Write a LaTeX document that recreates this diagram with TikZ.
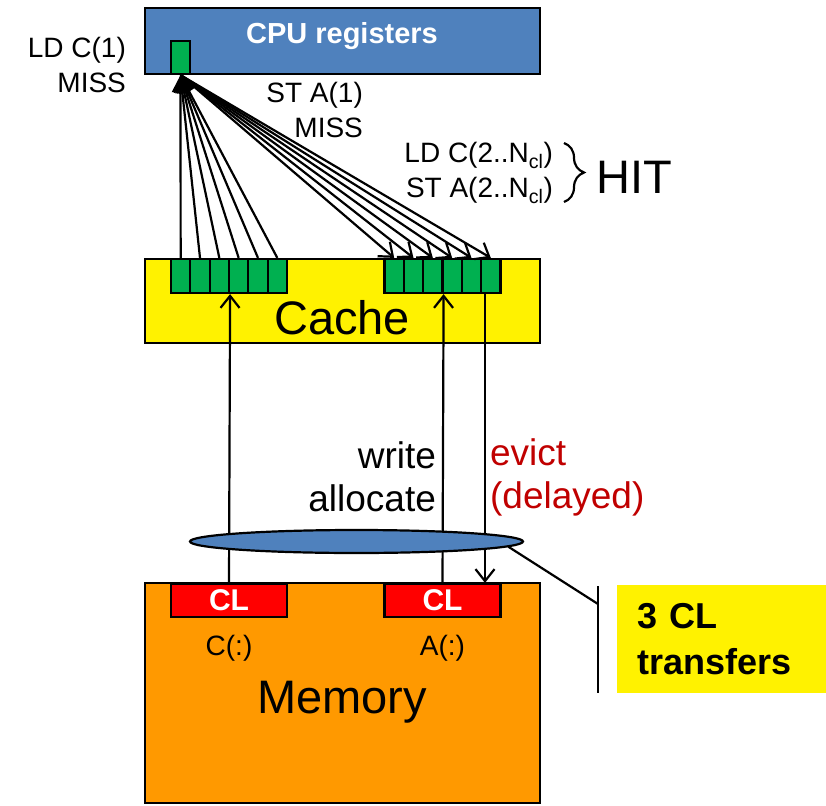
\documentclass[tikz,border=0pt]{standalone}
\usepackage{fontspec}
\setmainfont{Liberation Sans}
\usetikzlibrary{arrows.meta,shapes.geometric,decorations.pathreplacing}
\definecolor{cpublue}{HTML}{4F81BD}
\definecolor{cellgreen}{HTML}{00B050}
\definecolor{memorange}{HTML}{FF9900}
\definecolor{evictred}{HTML}{C00000}
\begin{document}
\begin{tikzpicture}[x=1pt, y=-1pt, line width=2.2pt,
    bigbox/.style={draw, inner sep=0pt, minimum width=395pt},
    cell/.style={draw, fill=cellgreen, inner sep=0pt, minimum width=19.33pt, minimum height=34pt},
    clbox/.style={draw, fill=red, text=white, inner sep=0pt, minimum width=116pt, minimum height=33pt,
      font=\fontsize{30}{36}\selectfont\bfseries},
    lbl/.style={inner sep=0pt, font=\fontsize{28}{35}\selectfont},
    biglbl/.style={inner sep=0pt, font=\fontsize{47}{55}\selectfont},
    mid/.style={inner sep=0pt, font=\fontsize{37}{43}\selectfont},
    load/.style={-{Triangle[length=17pt,width=17pt]}},
    move/.style={-{Straight Barb[length=12pt,width=19pt]}}]
  \useasboundingbox (0,0) rectangle (826,805);
  % boxes
  \node[bigbox, fill=cpublue, minimum height=66pt] (cpu) at (342.5,41) {};
  \node[inner sep=0pt, text=white, font=\fontsize{29}{35}\selectfont\bfseries] (cputxt) at (342,36) {CPU registers};
  \node[cell, minimum width=19pt, minimum height=33pt] (reg) at (180.5,57.5) {};
  \node[bigbox, fill=yellow, minimum height=84pt] (cache) at (342.5,301) {};
  \node[biglbl] (cachetxt) at (342,318) {Cache};
  \node[bigbox, fill=memorange, minimum height=220pt] (mem) at (342.5,693) {};
  \node[biglbl, anchor=base] (memtxt) at (342,713) {Memory};
  \foreach \i in {1,...,6} {
    \node[cell] (lc\i) at ({171+(\i-0.5)*19.33},276) {};
    \node[cell] (rc\i) at ({384.5+(\i-0.5)*19.33},276) {};
  }
  \node[clbox] (clL) at (229,600.5) {CL};
  \node[clbox] (clR) at (442.5,600.5) {CL};
  \node[lbl] (ctxt) at (229,648) {C(:)};
  \node[lbl] (atxt) at (442.5,648) {A(:)};
  % loads and stores
  \foreach \i in {1,...,6} {
    \draw[load] (lc\i.north) -- (reg.south);
    \draw[move] (reg.south) -- (rc\i.north);
  }
  \node[lbl, align=right, anchor=east] (ldmiss) at (127,64.5) {LD C(1)\\MISS};
  \node[lbl, align=right, anchor=east] (stmiss) at (364,110) {ST A(1)\\MISS};
  \node[lbl, align=right, anchor=east] (hits) at (554,173) {LD C(2..N\textsubscript{cl})\\ST A(2..N\textsubscript{cl})};
  \draw[decorate, decoration={brace, amplitude=20pt}] (564,143) -- (564,202);
  \node[biglbl, anchor=west] (hit) at (595,177) {HIT};
  % memory traffic
  \draw[move] (clL.north) -- (lc3.south east);
  \draw[move] (clR.north) -- (rc3.south east);
  \coordinate (ev) at (485,293);
  \draw[move] (ev) -- (ev |- clR.north);
  \node[mid, align=right, anchor=east] (wa) at (437,477) {write\\allocate};
  \node[mid, align=left, anchor=west, text=evictred] (evd) at (489,477) {evict\\(delayed)};
  \node[ellipse, draw, fill=cpublue, inner sep=0pt, minimum width=333pt, minimum height=23pt] (ell) at (356.5,541.5) {};
  \coordinate (bt) at (598,586);
  \coordinate (bj) at (598,604);
  \coordinate (bb) at (598,693);
  \draw (ell.-2) -- (bj);
  \draw (bt) -- (bb);
  \node[fill=yellow, anchor=west, minimum height=108pt, text width=170pt, inner xsep=20pt, align=left,
    font=\fontsize{36}{46}\selectfont\bfseries] (xfer) at (616,639) {3 CL\\transfers};
\end{tikzpicture}
\end{document}
